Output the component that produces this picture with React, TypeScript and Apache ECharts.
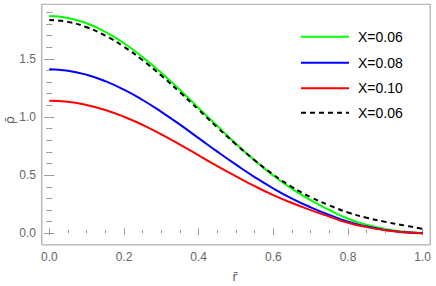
import React, { useEffect, useRef } from "react";
import * as echarts from "echarts";

const rValues = [0, 0.05, 0.1, 0.15, 0.2, 0.25, 0.3, 0.35, 0.4, 0.45, 0.5, 0.55, 0.6, 0.65, 0.7, 0.75, 0.8, 0.85, 0.9, 0.95, 1.0];
const greenValues = [1.868, 1.852, 1.806, 1.732, 1.634, 1.515, 1.38, 1.232, 1.078, 0.922, 0.77, 0.627, 0.496, 0.382, 0.285, 0.2, 0.125, 0.073, 0.037, 0.013, 0.002];
const blueValues = [1.41, 1.398, 1.364, 1.308, 1.235, 1.146, 1.044, 0.934, 0.818, 0.702, 0.59, 0.483, 0.385, 0.298, 0.223, 0.158, 0.1, 0.058, 0.028, 0.009, 0.001];
const redValues = [1.14, 1.131, 1.104, 1.06, 1.002, 0.932, 0.85, 0.762, 0.67, 0.578, 0.49, 0.405, 0.328, 0.26, 0.199, 0.143, 0.09, 0.053, 0.026, 0.009, 0.001];
const blackValues = [1.834, 1.818, 1.772, 1.7, 1.604, 1.488, 1.356, 1.212, 1.062, 0.91, 0.764, 0.628, 0.505, 0.398, 0.31, 0.24, 0.178, 0.133, 0.098, 0.068, 0.038];

const seriesNames = ["X=0.06", "X=0.08", "X=0.10", "X=0.06"];
const seriesColors = ["#00ff00", "#0000ff", "#ff0000", "#000000"];
const xTickLabels = ["0.0", "0.2", "0.4", "0.6", "0.8", "1.0"];
const yTickLabels = ["0.0", "0.5", "1.0", "1.5"];

export default function App() {
  const ref = useRef<HTMLDivElement>(null);
  useEffect(() => {
    if (!ref.current) return;
    document.body.style.margin = "0";
    const chart = echarts.init(ref.current, null, { renderer: "svg" });
    const allValues = [greenValues, blueValues, redValues, blackValues];
    const gray = "#999999";
    const labelColor = "#666666";
    const font = "Liberation Sans, Arial, sans-serif";
    const nameFont = "DejaVu Sans, sans-serif";

    const tickAxisCommon = {
      axisLine: { show: false },
      splitLine: { show: false },
      axisTick: { show: true, inside: true, length: 5, lineStyle: { color: gray, width: 1 } },
      minorTick: { show: true, length: 3, lineStyle: { color: gray, width: 1 } },
    };

    const legendRowsY = [36.7, 62.7, 88.3, 112.7];
    const legendGraphics: any[] = [];
    seriesNames.forEach((name, i) => {
      legendGraphics.push({
        type: "line",
        shape: { x1: 301, y1: legendRowsY[i], x2: 349, y2: legendRowsY[i] },
        style: {
          stroke: seriesColors[i],
          lineWidth: 2,
          lineDash: i === 3 ? [5, 4] : null,
        },
        z: 100,
      });
      legendGraphics.push({
        type: "text",
        x: 358,
        y: legendRowsY[i],
        style: {
          text: name,
          fill: "#000000",
          font: `14px ${font}`,
          verticalAlign: "middle",
        },
        z: 100,
      });
    });

    const option: any = {
      animation: false,
      backgroundColor: "#ffffff",
      grid: [
        { left: 41.8, right: 5.8, top: 4.2, bottom: 41.1, show: true, borderColor: gray, borderWidth: 1, backgroundColor: "transparent" },
        { left: 49.3, right: 13.3, top: 0.7, bottom: 52.7, show: false },
      ],
      xAxis: [
        { type: "value", gridIndex: 0, min: -0.02, max: 1.02, show: false },
        {
          type: "value", gridIndex: 1, min: 0, max: 1, interval: 0.2, position: "bottom", offset: 11.7,
          ...tickAxisCommon,
          minorTick: { ...tickAxisCommon.minorTick, splitNumber: 4 },
          axisLabel: {
            show: true, margin: 6, color: labelColor, fontSize: 12, fontFamily: font,
            formatter: (v: number) => { const i = Math.round(v / 0.2); return xTickLabels[i] ?? ""; },
          },
        },
        {
          type: "value", gridIndex: 1, min: 0, max: 1, interval: 0.2, position: "top", offset: -3.3,
          ...tickAxisCommon,
          minorTick: { ...tickAxisCommon.minorTick, splitNumber: 4 },
          axisLabel: { show: false },
        },
      ],
      yAxis: [
        { type: "value", gridIndex: 0, min: -0.1, max: 1.97, show: false },
        {
          type: "value", gridIndex: 1, min: 0, max: 2, interval: 0.5, position: "left", offset: 8.3,
          ...tickAxisCommon,
          minorTick: { ...tickAxisCommon.minorTick, splitNumber: 5 },
          axisLabel: {
            show: true, margin: 5, color: labelColor, fontSize: 12, fontFamily: font,
            formatter: (v: number) => { const i = Math.round(v / 0.5); return yTickLabels[i] ?? ""; },
          },
        },
        {
          type: "value", gridIndex: 1, min: 0, max: 2, interval: 0.5, position: "right", offset: 7.3,
          ...tickAxisCommon,
          minorTick: { ...tickAxisCommon.minorTick, splitNumber: 5 },
          axisLabel: { show: false },
        },
      ],
      series: seriesNames.map((name, i) => ({
        name,
        type: "line",
        xAxisIndex: 0,
        yAxisIndex: 0,
        smooth: true,
        symbol: "none",
        z: i === 3 ? 5 : 3,
        lineStyle: { color: seriesColors[i], width: 2, type: i === 3 ? [5, 4] : "solid" },
        data: rValues.map((r, j) => [r, allValues[i][j]]),
      })),
      graphic: [
        { type: "rect", shape: { x: 0, y: 0, width: 436, height: 3.5 }, style: { fill: "#ffffff" }, z: 200 },
        {
          type: "text", x: 9, y: 120, rotation: Math.PI / 2,
          style: { text: "ρ̄", fill: labelColor, font: `13px ${nameFont}`, align: "center", verticalAlign: "middle" },
          z: 100,
        },
        {
          type: "text", x: 235, y: 276,
          style: { text: "r̄", fill: labelColor, font: `13px ${nameFont}`, align: "center", verticalAlign: "middle" },
          z: 100,
        },
        ...legendGraphics,
      ],
    };
    chart.setOption(option);
    return () => chart.dispose();
  }, []);
  return <div ref={ref} style={{ width: 436, height: 286, position: "absolute", left: 0, top: 0 }} />;
}
